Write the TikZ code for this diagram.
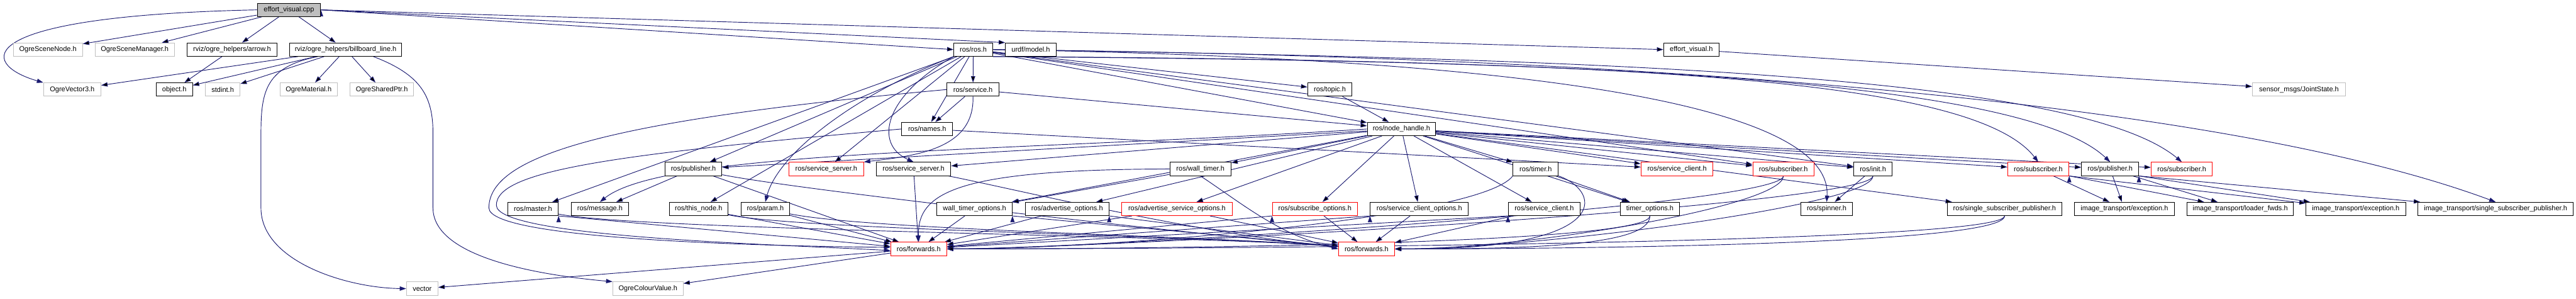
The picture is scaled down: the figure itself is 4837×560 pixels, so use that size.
\documentclass[tikz,border=0pt]{standalone}
\usepackage{fontspec}
\setmainfont{Liberation Sans}
\usepackage{xcolor}
\usepackage{tikz}
\usetikzlibrary{arrows.meta,backgrounds}
\definecolor{incblue}{RGB}{25,25,112}
\definecolor{extgray}{RGB}{191,191,191}

\begin{document}
\begin{tikzpicture}[x=1pt,y=1pt,>={Triangle[length=12pt,width=8pt]},
 font=\fontsize{13}{15}\selectfont,
 hdr/.style={draw=black,fill=white,line width=1.2pt,minimum height=25pt,inner xsep=3pt,inner ysep=0pt},
 ext/.style={hdr,draw=extgray},
 trunc/.style={hdr,draw=red},
 root/.style={hdr,fill=extgray},
 inc/.style={->,draw=incblue,line width=1.1pt},
 lowleft/.style={to path={.. controls +(0,-70) and +(300,0) .. (\tikztotarget)}},
 lowright/.style={to path={.. controls +(200,-40) and +(-300,25) .. (\tikztotarget)}}]
\useasboundingbox (0,0) rectangle (4837,-560);
\node[root,minimum width=119] (cpp) at (542.5,-18.5) {effort\_visual.cpp};
\node[ext,minimum width=130] (ogreNode) at (90,-93) {OgreSceneNode.h};
\node[ext,minimum width=149] (ogreMgr) at (253,-93) {OgreSceneManager.h};
\node[hdr,minimum width=168] (arrowH) at (435.8,-93) {rviz/ogre\_helpers/arrow.h};
\node[hdr,minimum width=210] (bbLine) at (649,-93) {rviz/ogre\_helpers/billboard\_line.h};
\node[hdr,minimum width=73] (rosH) at (1827.5,-93) {ros/ros.h};
\node[hdr,minimum width=95] (urdf) at (1935.5,-93) {urdf/model.h};
\node[hdr,minimum width=104] (evH) at (3175.8,-93) {effort\_visual.h};
\node[ext,minimum width=107.5] (vec3) at (135.6,-168) {OgreVector3.h};
\node[hdr,minimum width=68] (objectH) at (327.4,-168) {object.h};
\node[ext,minimum width=65] (stdintH) at (418.2,-168) {stdint.h};
\node[ext,minimum width=107] (ogreMat) at (579.5,-168) {OgreMaterial.h};
\node[ext,minimum width=119] (ogreShared) at (717,-168) {OgreSharedPtr.h};
\node[hdr,minimum width=98] (serviceH) at (1827,-168) {ros/service.h};
\node[hdr,minimum width=83] (topicH) at (2497,-168) {ros/topic.h};
\node[ext,minimum width=175] (jointH) at (4316.8,-168) {sensor\_msgs/JointState.h};
\node[hdr,minimum width=96] (namesH) at (1741,-242) {ros/names.h};
\node[hdr,minimum width=128] (nodeH) at (2631.5,-242) {ros/node\_handle.h};
\node[hdr,minimum width=107] (pubA) at (1302,-317) {ros/publisher.h};
\node[trunc,minimum width=140] (ssRed) at (1551.5,-317) {ros/service\_server.h};
\node[hdr,minimum width=140] (ssBlk) at (1715.4,-317) {ros/service\_server.h};
\node[hdr,minimum width=115] (wallTimer) at (2254,-317) {ros/wall\_timer.h};
\node[hdr,minimum width=85] (timerH) at (2883.6,-317) {ros/timer.h};
\node[trunc,minimum width=135] (clientRed) at (3149,-317) {ros/service\_client.h};
\node[trunc,minimum width=115] (subA) at (3348.7,-317) {ros/subscriber.h};
\node[hdr,minimum width=72] (initH) at (3516.8,-317) {ros/init.h};
\node[trunc,minimum width=115] (subB) at (3827.3,-317) {ros/subscriber.h};
\node[hdr,minimum width=107] (pubB) at (3962.2,-317) {ros/publisher.h};
\node[trunc,minimum width=115] (subC) at (4096.8,-317) {ros/subscriber.h};
\node[hdr,minimum width=95] (masterH) at (1000.8,-392) {ros/master.h};
\node[hdr,minimum width=108] (messageH) at (1126.5,-392) {ros/message.h};
\node[hdr,minimum width=110] (thisNode) at (1311.7,-392) {ros/this\_node.h};
\node[hdr,minimum width=90.5] (paramH) at (1437,-392) {ros/param.h};
\node[hdr,minimum width=141] (wtOpts) at (1830,-392) {wall\_timer\_options.h};
\node[hdr,minimum width=157] (advOpts) at (2003.7,-392) {ros/advertise\_options.h};
\node[trunc,minimum width=207] (advSvcOpts) at (2210,-392) {ros/advertise\_service\_options.h};
\node[trunc,minimum width=160] (subOpts) at (2469,-392) {ros/subscribe\_options.h};
\node[hdr,minimum width=184] (clientOpts) at (2665,-392) {ros/service\_client\_options.h};
\node[hdr,minimum width=135] (clientBlk) at (2899.6,-392) {ros/service\_client.h};
\node[hdr,minimum width=111] (timerOpts) at (3098,-392) {timer\_options.h};
\node[hdr,minimum width=97] (spinnerH) at (3430,-392) {ros/spinner.h};
\node[hdr,minimum width=215] (sspA) at (3764,-392) {ros/single\_subscriber\_publisher.h};
\node[hdr,minimum width=187] (excA) at (3989,-392) {image\_transport/exception.h};
\node[hdr,minimum width=200] (loaderH) at (4206.5,-392) {image\_transport/loader\_fwds.h};
\node[hdr,minimum width=187] (excB) at (4423.5,-392) {image\_transport/exception.h};
\node[hdr,minimum width=292] (itSsp) at (4686,-392) {image\_transport/single\_subscriber\_publisher.h};
\node[trunc,minimum width=105] (fwdA) at (1725,-467) {ros/forwards.h};
\node[trunc,minimum width=105] (fwdB) at (2566,-467) {ros/forwards.h};
\node[ext,minimum width=59] (vectorH) at (792.8,-541.5) {vector};
\node[ext,minimum width=132] (colourH) at (1216.7,-541.5) {OgreColourValue.h};
\begin{scope}[on background layer]
\path[inc] (cpp) edge (ogreNode) edge (ogreMgr) edge (arrowH) edge (bbLine);
\path[inc] (cpp.east) edge (rosH.west) edge (urdf.north west) edge (evH.west);
\draw[inc] (cpp.west) .. controls (-60,-30) and (-40,-120) .. (vec3.north west);
\path[inc] (arrowH) edge (objectH);
\path[inc] (bbLine) edge (vec3) edge (objectH) edge (stdintH) edge (ogreMat) edge (ogreShared);
\draw[inc] ([xshift=-52pt]bbLine.south) .. controls (500,-125) and (490,-170) .. (490,-250)
 -- (490,-390) .. controls (490,-490) and (650,-540) .. (vectorH.west);
\draw[inc] ([xshift=52pt]bbLine.south) .. controls (790,-140) and (813,-180) .. (813,-250)
 -- (813,-390) .. controls (813,-480) and (1000,-515) .. (colourH.north west);
\path[inc] (fwdA) edge (vectorH) edge (colourH);
\path[inc] (evH) edge (jointH);
\path[inc] (rosH) edge (serviceH) edge (namesH) edge (topicH) edge (nodeH) edge (subA)
 edge (initH) edge (pubA) edge (ssRed) edge (thisNode) edge (masterH);
\draw[inc] (rosH.south west) .. controls (1660,-180) and (1640,-270) .. (ssBlk.north);
\draw[inc] (rosH.south west) .. controls (1600,-180) and (1460,-290) .. (paramH.north);
\draw[inc] (rosH.east) .. controls (2900,-110) and (3440,-200) .. (spinnerH.north);
\draw[inc] (rosH.south east) .. controls (3000,-115) and (3700,-140) .. (subB.north);
\draw[inc] (rosH.south east) .. controls (3000,-112) and (3800,-150) .. (pubB.north);
\draw[inc] (rosH.east) .. controls (3000,-110) and (3900,-140) .. (subC.north);
\draw[inc] (rosH.east) .. controls (3000,-105) and (4150,-180) .. (itSsp.north);
\path[inc] (serviceH) edge (namesH) edge (nodeH);
\draw[inc] (serviceH.south) .. controls (1830,-280) and (1720,-292) .. (ssRed.north east);
\draw[inc] (serviceH.west) .. controls (1150,-225) and (918,-290) .. (918,-390)
 .. controls (918,-450) and (1450,-462) .. ([yshift=3pt]fwdA.west);
\draw[inc] (namesH.west) .. controls (1150,-290) and (932,-320) .. (932,-385)
 .. controls (932,-445) and (1450,-458) .. ([yshift=-3pt]fwdA.west);
\path[inc] (namesH) edge (clientRed);
\path[inc] (topicH) edge (nodeH);
\path[inc] (nodeH) edge (pubA) edge (ssBlk) edge (wallTimer) edge (wtOpts) edge (advOpts)
 edge (advSvcOpts) edge (subOpts) edge (clientOpts) edge (clientBlk) edge (timerH)
 edge (clientRed) edge (subA) edge (initH) edge (timerOpts) edge (sspA) edge (subB)
 edge (pubB) edge (subC);
\draw[inc] (nodeH.west) .. controls (1900,-285) and (1250,-280) .. (messageH.north);
\path[inc] (pubA) edge (messageH) edge (fwdA) edge[lowright] (fwdB);
\path[inc] (thisNode) edge (fwdA) edge[lowright] (fwdB);
\path[inc] (paramH) edge (fwdA) edge[lowright] (fwdB);
\path[inc] (masterH.south east) edge (fwdA);
\path[inc] (masterH) edge[lowright] (fwdB);
\path[inc] (ssBlk) edge (fwdA) edge[lowright] (fwdB);
\path[inc] (wallTimer) edge (wtOpts);
\draw[inc] (wallTimer.west) .. controls (1800,-318) and (1722,-360) .. (fwdA.north);
\draw[inc] (wallTimer.south) .. controls (2330,-380) and (2400,-440) .. (fwdB.west);
\path[inc] (timerH) edge (timerOpts);
\draw[inc] (timerH.south west) .. controls +(-60,-80) and +(300,0) .. (fwdA.east);
\draw[inc] (timerH.south east) .. controls (3010,-360) and (3030,-470) .. (fwdB.east);
\path[inc] (wtOpts) edge (fwdA);
\path[inc] (wtOpts.south east) edge (fwdB);
\path[inc] (advOpts) edge (fwdA);
\path[inc] (advOpts.south east) edge (fwdB);
\path[inc] (advSvcOpts) edge (fwdA) edge (fwdB);
\path[inc] (subOpts) edge (fwdB);
\path[inc] (subOpts.south west) edge (fwdA);
\path[inc] (clientOpts) edge (fwdB);
\path[inc] (clientOpts.south west) edge (fwdA);
\path[inc] (clientBlk) edge (fwdB);
\path[inc] (clientBlk.south west) edge (fwdA);
\path[inc] (timerOpts) edge[lowleft] (fwdA) edge[lowleft] (fwdB);
\path[inc] (subA) edge[lowleft] (fwdA) edge[lowleft] (fwdB);
\path[inc] (initH) edge (spinnerH) edge[lowleft] (fwdA) edge[lowleft] (fwdB);
\path[inc] (sspA) edge[lowleft] (fwdA) edge[lowleft] (fwdB);
\path[inc] (subB) edge (excA);
\path[inc] (subB.south east) edge (loaderH) edge (excB);
\path[inc] (pubB) edge (excA) edge (loaderH);
\path[inc] (pubB.south east) edge (excB) edge (itSsp);
\end{scope}
\end{tikzpicture}
\end{document}
